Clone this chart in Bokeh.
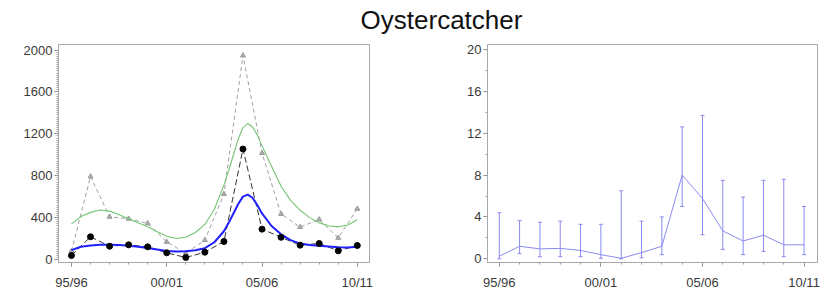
from bokeh.plotting import figure
from bokeh.models import Range1d, FixedTicker, Label, ColumnDataSource, Whisker, TeeHead
from bokeh.layouts import column, row
from bokeh.embed import file_html
from bokeh.resources import INLINE

# ---------------- data ----------------
seasons = ["95/96", "96/97", "97/98", "98/99", "99/00", "00/01", "01/02", "02/03",
           "03/04", "04/05", "05/06", "06/07", "07/08", "08/09", "09/10", "10/11"]
x_idx = list(range(len(seasons)))
label_idx = [0, 5, 10, 15]

black_counts = [38, 217, 127, 140, 121, 64, 19, 70, 172, 1055, 290, 212, 137, 153, 83, 134]
grey_counts = [80, 792, 408, 389, 345, 168, 60, 185, 625, 1948, 1016, 435, 309, 382, 206, 484]

smooth_x = [0, 0.5, 1, 1.5, 2, 2.5, 3, 3.5, 4, 4.5, 5, 5.5, 6, 6.5, 7, 7.5, 8, 8.25, 8.5,
            8.75, 9, 9.25, 9.5, 9.75, 10, 10.5, 11, 11.5, 12, 12.5, 13, 13.5, 14, 14.5, 15]
green_smooth = [340, 410, 450, 472, 462, 428, 388, 350, 312, 265, 222, 200, 212, 258, 335,
                480, 710, 850, 1000, 1150, 1260, 1298, 1265, 1190, 1085, 890, 700, 565,
                470, 400, 350, 322, 312, 330, 380]
blue_smooth = [90, 122, 134, 140, 140, 138, 132, 122, 110, 95, 82, 76, 78, 88, 108, 165,
               270, 350, 440, 530, 600, 620, 590, 520, 440, 320, 240, 185, 152, 138, 132,
               125, 118, 115, 122]

index_vals = [0.25, 1.2, 0.95, 1.0, 0.8, 0.4, 0.05, 0.6, 1.2, 8.0, 5.76, 2.67, 1.7, 2.26, 1.34, 1.34]
index_lower = [0.0, 0.5, 0.2, 0.2, 0.2, 0.05, 0.0, 0.1, 0.4, 5.0, 2.3, 0.9, 0.4, 0.7, 0.2, 0.4]
index_upper = [4.4, 3.65, 3.5, 3.6, 3.3, 3.3, 6.5, 3.6, 4.0, 12.6, 13.7, 7.5, 5.9, 7.5, 7.6, 5.0]

left_yticks = [0, 400, 800, 1200, 1600, 2000]
right_yticks = [0, 4, 8, 12, 16, 20]

FONT = "Liberation Sans"
AXIS_GREY = "#a8a8a8"
LABEL_COL = "#3a3a3a"


def style(p, yticks, yminor):
    p.grid.visible = False
    p.outline_line_color = AXIS_GREY
    p.outline_line_width = 1
    p.xaxis.ticker = FixedTicker(ticks=label_idx, minor_ticks=x_idx)
    p.xaxis.major_label_overrides = {i: seasons[i] for i in label_idx}
    p.yaxis.ticker = FixedTicker(ticks=yticks, minor_ticks=yminor)
    for ax in (p.xaxis[0], p.yaxis[0]):
        ax.axis_line_color = AXIS_GREY
        ax.major_tick_line_color = "#888888"
        ax.minor_tick_line_color = "#a0a0a0"
        ax.major_tick_in = 0
        ax.major_tick_out = 4
        ax.minor_tick_in = 0
        ax.minor_tick_out = 2
        ax.major_label_text_font = FONT
        ax.major_label_text_font_size = "13px"
        ax.major_label_text_color = LABEL_COL
    p.xaxis.major_label_standoff = 8
    p.yaxis.major_label_standoff = 2
    p.background_fill_color = "white"
    p.border_fill_color = "white"


# ---------------- title strip ----------------
pt = figure(width=828, height=37, x_range=Range1d(0, 828), y_range=Range1d(0, 37),
            x_axis_type=None, y_axis_type=None, toolbar_location=None,
            output_backend="svg", min_border=0)
pt.outline_line_color = None
pt.grid.visible = False
pt.add_layout(Label(x=441, y=18, text="Oystercatcher", text_align="center",
                    text_baseline="middle", text_font=FONT, text_font_size="26px",
                    text_color="#111111"))

# ---------------- left panel ----------------
p1 = figure(frame_width=311, frame_height=218, x_range=Range1d(-0.68, 15.64),
            y_range=Range1d(-28.6, 2053), toolbar_location=None, output_backend="svg",
            min_border_left=58, min_border_right=59, min_border_top=7, min_border_bottom=28)
style(p1, left_yticks, list(range(0, 2001, 20)))

p1.line(x_idx, grey_counts, line_color="#a0a0a0", line_dash="4 3", line_width=1)
p1.scatter(x_idx, grey_counts, marker="triangle", size=5, fill_color="#b0b0b0",
           line_color="#999999")
p1.line(x_idx, black_counts, line_color="#333333", line_dash="6 3", line_width=1)
p1.line(smooth_x, green_smooth, line_color="#74c474", line_width=1.1)
p1.line(smooth_x, blue_smooth, line_color="#2020ff", line_width=2)
p1.scatter(x_idx, black_counts, marker="circle", size=6, fill_color="black",
           line_color="black")

# ---------------- right panel ----------------
p2 = figure(frame_width=330, frame_height=218, x_range=Range1d(-0.58, 15.66),
            y_range=Range1d(-0.35, 20.47), toolbar_location=None, output_backend="svg",
            min_border_left=59, min_border_right=11, min_border_top=7, min_border_bottom=28)
style(p2, right_yticks, list(range(0, 21, 2)))

src = ColumnDataSource(dict(x=x_idx, y=index_vals, lower=index_lower, upper=index_upper))
ebar_col = "#8a8af0"
p2.add_layout(Whisker(source=src, base="x", lower="lower", upper="upper",
                      line_color=ebar_col, line_width=1,
                      upper_head=TeeHead(size=4, line_color=ebar_col, line_width=1),
                      lower_head=TeeHead(size=4, line_color=ebar_col, line_width=1)))
p2.line("x", "y", source=src, line_color=ebar_col, line_width=1)

layout = column(pt, row(p1, p2))
open("out.html", "w").write(file_html(layout, INLINE))
